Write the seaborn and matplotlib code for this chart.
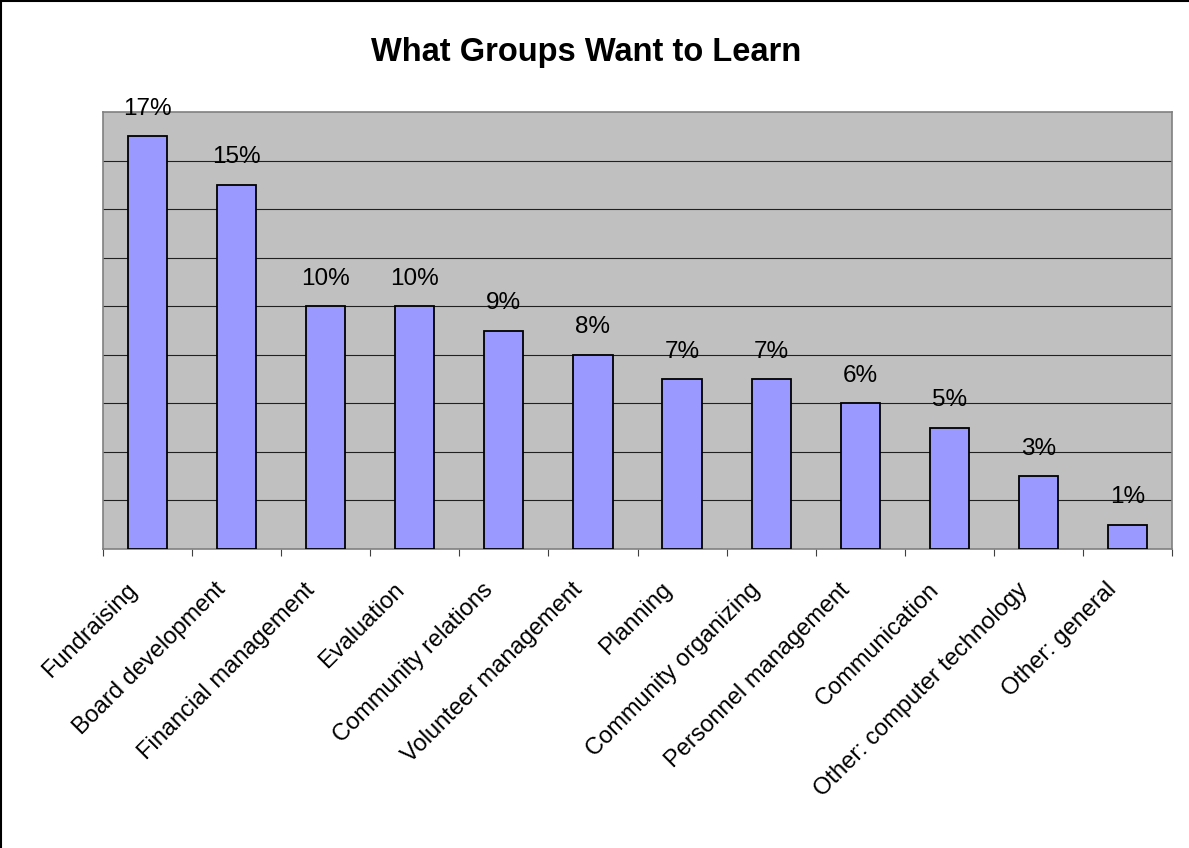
import numpy as np
import pandas as pd
import matplotlib
matplotlib.use("Agg")
import matplotlib.pyplot as plt
from matplotlib.lines import Line2D
from matplotlib.transforms import ScaledTranslation
import seaborn as sns

# data
topics = ['Fundraising', 'Board development', 'Financial management', 'Evaluation',
          'Community relations', 'Volunteer management', 'Planning',
          'Community organizing', 'Personnel management', 'Communication',
          'Other: computer technology', 'Other: general']
percent = [17, 15, 10, 10, 9, 8, 7, 7, 6, 5, 3, 1]

df = pd.DataFrame({'Topic': topics, 'Percent': percent})

sns.set_style('white')
plt.rcParams['font.family'] = ['Liberation Sans', 'DejaVu Sans']
plt.rcParams['text.color'] = 'black'
plt.rcParams['xtick.color'] = 'black'

fig = plt.figure(figsize=(11.89, 8.48), dpi=100)
ax = fig.add_axes([103 / 1189, 1 - 549 / 848, (1172 - 103) / 1189, (549 - 112) / 848])
ax.set_facecolor('#C0C0C0')

sns.barplot(data=df, x='Topic', y='Percent', color='#9999FF', saturation=1,
            edgecolor='black', linewidth=1.3, width=0.44, ax=ax, zorder=3)

ax.set_xlim(-0.5, len(topics) - 0.5)
ax.set_ylim(0, 18)

# horizontal gridlines every 2%
for v in range(2, 18, 2):
    ax.axhline(v, color='#202020', linewidth=0.8, zorder=1)

# value labels
for i, p in enumerate(percent):
    ax.annotate(f'{p}%', (i, p), xytext=(0, 15.5), textcoords='offset points',
                ha='center', va='baseline', fontsize=17.5, color='black')

# category labels, rotated
ax.set_xticks(range(len(topics)))
ax.set_xticklabels(topics, rotation=45, ha='right', va='center',
                   rotation_mode='anchor', fontsize=17, color='black')
ax.tick_params(axis='x', which='major', length=0, pad=27)
ax.set_xticks(np.arange(-0.5, len(topics), 1), minor=True)
ax.tick_params(axis='x', which='minor', length=5, width=0.8, color='#404040',
               direction='out', bottom=True)
ax.set_yticks([])
ax.set_xlabel('')
ax.set_ylabel('')

# nudge labels left so their ends sit like the original
shift = ScaledTranslation(-14 / 100, 0, fig.dpi_scale_trans)
for lab in ax.get_xticklabels():
    lab.set_transform(lab.get_transform() + shift)

for side in ['top', 'left', 'right', 'bottom']:
    ax.spines[side].set_color('#808080')
    ax.spines[side].set_linewidth(1.2)

fig.text(586 / 1189, 1 - 52 / 848, 'What Groups Want to Learn', ha='center', va='center',
         fontsize=23.5, fontweight='bold', color='black')

# border on top and left edges
fig.add_artist(Line2D([0.001, 0.001], [0, 1], color='black', linewidth=1.5,
                      transform=fig.transFigure))
fig.add_artist(Line2D([0, 1], [0.999, 0.999], color='black', linewidth=1.5,
                      transform=fig.transFigure))

fig.savefig('out.png', dpi=100)
